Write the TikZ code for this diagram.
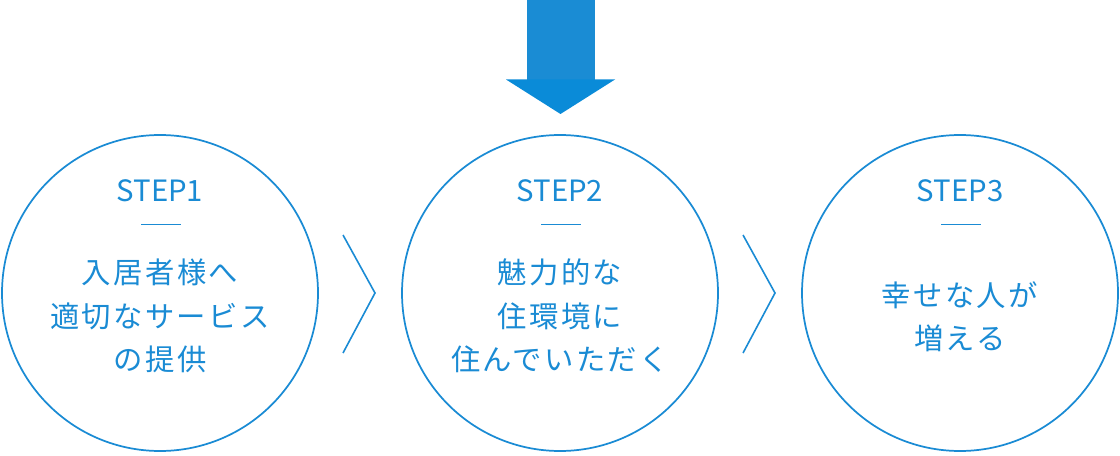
\documentclass[tikz,border=0pt]{standalone}
\usepackage{fontspec}
\setmainfont{Noto Sans CJK JP}
\newfontfamily\bodyfont[LetterSpace=8]{Noto Sans CJK JP}
\definecolor{stepblue}{RGB}{26,139,212}
\definecolor{shaftblue}{RGB}{26,140,212}
\definecolor{headblue}{RGB}{10,139,216}
\usetikzlibrary{positioning}
\tikzset{
	stepcircle/.style={circle, draw=stepblue, line width=1.3, minimum size=237pt, inner sep=0pt},
	steplabel/.style={color=stepblue, font=\fontsize{22}{26}\selectfont},
	stepbody/.style={color=stepblue, align=center, font=\bodyfont\fontsize{22}{32.5}\selectfont},
	chevron/.style={color=stepblue, line width=1.2}
}

\begin{document}
\begin{tikzpicture}[x=0.75pt,y=0.75pt,yscale=-1,xscale=1]
	\useasboundingbox (0,0) rectangle (1120,456);
	
	%Shape: Arrow down
	\fill [shaftblue] (527,0) rectangle (595,80);
	\fill [headblue] (506,79.5) -- (615,79.5) -- (560.5,114) -- cycle;
	
	%Shape: Circles
	\node [stepcircle] (step1) at (160,293) {};
	\node [stepcircle] (step2) at (560,293) {};
	\node [stepcircle] (step3) at (960,293) {};
	
	%Straight Lines: chevrons
	\draw [chevron] (343,235) -- (375,293) -- (343,353);
	\draw [chevron] (743,235) -- (775,293) -- (743,353);
	
	% Text Node
	\node [steplabel] (lbl1) at (160,191) {STEP1};
	\node [steplabel] (lbl2) at (560,191) {STEP2};
	\node [steplabel] (lbl3) at (960,191) {STEP3};
	
	%Straight Lines: dashes
	\draw [color=stepblue, line width=1.3] (141,224.5) -- (181,224.5);
	\draw [color=stepblue, line width=1.3] (541,224.5) -- (581,224.5);
	\draw [color=stepblue, line width=1.3] (941,224.5) -- (981,224.5);
	
	% Text Node
	\node [stepbody] (body1) at (160,316) {入居者様へ\\適切なサービス\\の提供};
	\node [stepbody] (body2) at (560,316) {魅力的な\\住環境に\\住んでいただく};
	\node [stepbody] (body3) at (960,317) {幸せな人が\\増える};
	
\end{tikzpicture}
\end{document}
